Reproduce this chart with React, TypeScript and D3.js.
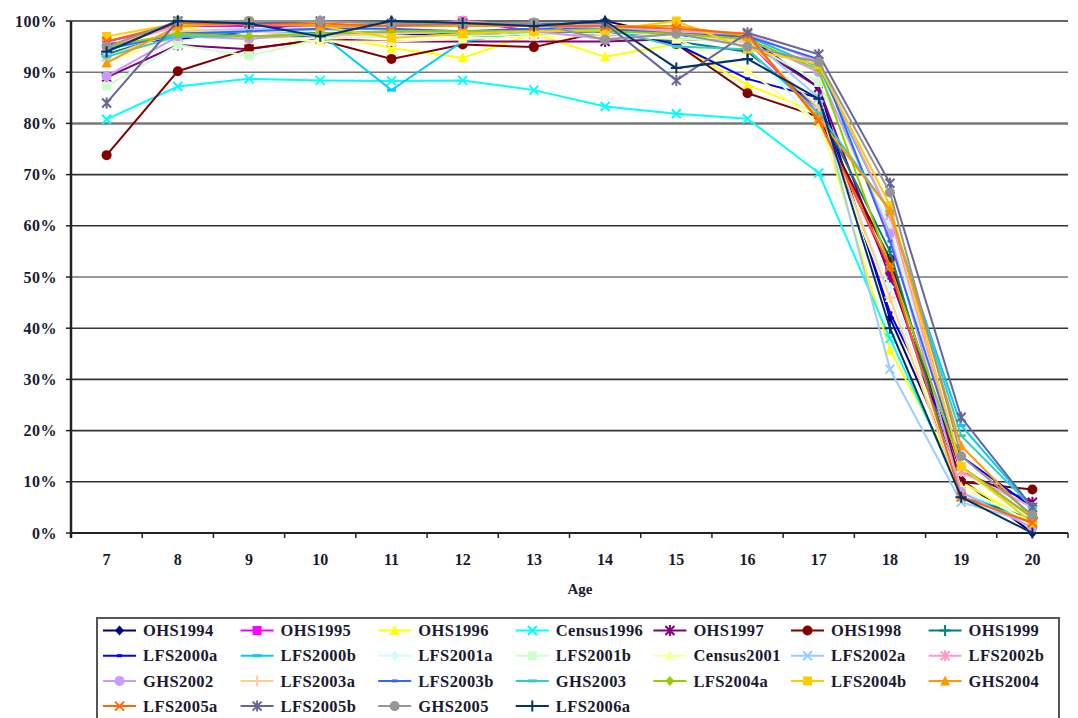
import React from "react";
import * as d3 from "d3";

const ages = ["7", "8", "9", "10", "11", "12", "13", "14", "15", "16", "17", "18", "19", "20"];
const yTicks = [0, 0.1, 0.2, 0.3, 0.4, 0.5, 0.6, 0.7, 0.8, 0.9, 1.0];

const seriesNames = [
  "OHS1994", "OHS1995", "OHS1996", "Census1996", "OHS1997", "OHS1998", "OHS1999",
  "LFS2000a", "LFS2000b", "LFS2001a", "LFS2001b", "Census2001", "LFS2002a", "LFS2002b",
  "GHS2002", "LFS2003a", "LFS2003b", "GHS2003", "LFS2004a", "LFS2004b", "GHS2004",
  "LFS2005a", "LFS2005b", "GHS2005", "LFS2006a",
];

const seriesColors = [
  "#000080", "#FF00FF", "#FFFF00", "#00FFFF", "#800080", "#800000", "#008080",
  "#0000FF", "#00CCFF", "#CCFFFF", "#CCFFCC", "#FFFF99", "#99CCFF", "#FF99CC",
  "#CC99FF", "#FFCC99", "#3366FF", "#33CCCC", "#99CC00", "#FFCC00", "#FF9900",
  "#FF6600", "#666699", "#969696", "#003366",
];

const markerCycle = ["diamond", "square", "triangle", "x", "star", "circle", "plus", "dot", "dash"];

// percentages
const OHS1994 = [94, 100, 99.5, 97.5, 100, 99, 99, 100, 97, 97, 87, 42, 10.5, 0];
const OHS1995 = [96, 99, 99, 99, 99, 100, 98, 97, 98, 96, 82, 51, 8, 2];
const OHS1996 = [95, 99, 96.5, 97.5, 94.7, 92.8, 97.5, 93, 95.5, 87.5, 82, 35.7, 10, 2];
const Census1996 = [80.8, 87.2, 88.7, 88.4, 88.3, 88.4, 86.5, 83.3, 81.9, 80.9, 70.3, 38, 8, 2];
const OHS1997 = [89, 95.3, 94.5, 96.5, 96, 96, 96, 96, 96.5, 96, 87, 50, 12, 6];
const OHS1998 = [73.8, 90.2, 94.6, 96.3, 92.6, 95.4, 94.9, 98, 95.5, 85.9, 81.3, 53.5, 10, 8.5];
const OHS1999 = [93.5, 98, 97, 97, 98, 97.5, 98, 98, 96, 94, 83, 55, 7, 3];
const LFS2000a = [95.5, 96.5, 98, 98, 97.5, 97, 97.5, 98, 95.5, 88.7, 85, 43, 15, 5];
const LFS2000b = [95, 97, 98, 97.5, 86.5, 96, 98, 98.5, 98, 97, 91, 62, 21, 5];
const LFS2001a = [94, 98, 98, 98, 98, 98, 98, 98, 97, 95, 79.5, 48, 8, 3];
const LFS2001b = [87.3, 95.3, 93.2, 96.5, 97, 97, 97.5, 97.5, 96.5, 96, 88, 60, 12, 3];
const Census2001 = [92, 97, 97, 96, 96, 96.5, 97, 97, 96.5, 90.4, 80, 46, 9, 2];
const LFS2002a = [93, 98, 98.5, 98.5, 99, 99, 99, 99, 98, 97, 85, 32, 6, 2];
const LFS2002b = [95, 99, 99.5, 99, 99, 100, 99, 98.5, 98, 97.5, 92, 62, 12, 5];
const GHS2002 = [89.2, 97, 96.5, 97.5, 97.5, 98, 98, 96.5, 97.5, 96.5, 90, 58.5, 8, 1];
const LFS2003a = [93, 98, 98, 97, 97.5, 98, 98, 98.5, 97.5, 96, 83, 46, 7, 2];
const LFS2003b = [94.5, 97.5, 98, 98.5, 98.5, 98, 98.5, 98.5, 97.5, 97, 92.5, 57, 13, 3];
const GHS2003 = [93, 97, 97, 97.5, 98, 98, 98, 98.5, 95, 94.5, 82, 63, 19, 5];
const LFS2004a = [95, 97.5, 97, 97.5, 98, 98, 98, 98, 97.5, 96.5, 90.5, 52, 13, 3];
const LFS2004b = [97, 99.5, 100, 99, 96.7, 97.5, 98, 98.2, 100, 94.5, 91.5, 64, 13, 2];
const GHS2004 = [91.8, 99, 99.5, 99, 99, 99, 99, 99, 99, 97, 81, 63, 17, 3];
const LFS2005a = [96, 99.5, 99.5, 99.5, 99, 99.5, 99, 99, 98.5, 97.5, 80.5, 52, 7, 2];
const LFS2005b = [84, 100, 99.5, 100, 99.5, 99.5, 99.5, 99.5, 88.4, 97.7, 93.5, 68.3, 22.6, 5];
const GHS2005 = [95, 100, 100, 100, 99.5, 99.5, 99.7, 96.3, 97.5, 95, 92, 66.5, 15, 3.5];
const LFS2006a = [94, 100, 99.5, 97, 100, 99.6, 99, 100, 90.8, 92.6, 84.8, 40, 7, 0];

const seriesValues = [
  OHS1994, OHS1995, OHS1996, Census1996, OHS1997, OHS1998, OHS1999,
  LFS2000a, LFS2000b, LFS2001a, LFS2001b, Census2001, LFS2002a, LFS2002b,
  GHS2002, LFS2003a, LFS2003b, GHS2003, LFS2004a, LFS2004b, GHS2004,
  LFS2005a, LFS2005b, GHS2005, LFS2006a,
];

const W = 1078;
const H = 718;
const plot = { left: 71, right: 1068, top: 21, bottom: 533 };
const font = "'Liberation Serif', 'Times New Roman', serif";
const textColor = "#1a1a2e";

function Marker({ kind, x, y, color }: { kind: string; x: number; y: number; color: string }) {
  const s = 4.5;
  switch (kind) {
    case "diamond":
      return <path d={`M${x},${y - s - 0.5}L${x + s},${y}L${x},${y + s + 0.5}L${x - s},${y}Z`} fill={color} />;
    case "square":
      return <rect x={x - s} y={y - s} width={2 * s} height={2 * s} fill={color} />;
    case "triangle":
      return <path d={`M${x},${y - s - 1}L${x + s + 0.5},${y + s}L${x - s - 0.5},${y + s}Z`} fill={color} />;
    case "x":
      return (
        <path d={`M${x - s},${y - s}L${x + s},${y + s}M${x - s},${y + s}L${x + s},${y - s}`} stroke={color} strokeWidth={2} />
      );
    case "star":
      return (
        <path
          d={`M${x - s},${y - s}L${x + s},${y + s}M${x - s},${y + s}L${x + s},${y - s}M${x},${y - s - 1}L${x},${y + s + 1}`}
          stroke={color}
          strokeWidth={2}
        />
      );
    case "circle":
      return <circle cx={x} cy={y} r={s + 0.5} fill={color} />;
    case "plus":
      return <path d={`M${x - s - 1},${y}L${x + s + 1},${y}M${x},${y - s - 1}L${x},${y + s + 1}`} stroke={color} strokeWidth={2} />;
    case "dot":
      return <path d={`M${x - 2.5},${y}L${x + 2.5},${y}`} stroke={color} strokeWidth={3} />;
    case "dash":
      return <path d={`M${x - 4.5},${y}L${x + 4.5},${y}`} stroke={color} strokeWidth={3} />;
    default:
      return null;
  }
}

export default function App() {
  const x = d3.scaleBand<string>().domain(ages).range([plot.left, plot.right]).padding(0);
  const bw = x.bandwidth();
  const cx = (a: string) => (x(a) as number) + bw / 2;
  const y = d3.scaleLinear().domain([0, 1]).range([plot.bottom, plot.top]);

  const line = d3
    .line<number>()
    .x((_, i) => cx(ages[i]))
    .y((v) => y(v / 100));

  const legendX0 = 103;
  const legendColW = 137.6;
  const legendY0 = 630.5;
  const legendRowH = 25.2;

  return (
    <svg width={W} height={H} style={{ position: "absolute", left: 0, top: 0, background: "#fff" }}>
      <rect x={0} y={0} width={W} height={H} fill="#fff" />
      {/* gridlines */}
      {yTicks.map((t) => (
        <line
          key={t}
          x1={plot.left}
          x2={plot.right}
          y1={y(t)}
          y2={y(t)}
          stroke={t === 0.8 || t === 0.9 || t === 0.5 ? "#777" : "#333"}
          strokeWidth={t === 0.8 ? 2.5 : 1.6}
        />
      ))}
      {/* y ticks and labels */}
      {yTicks.map((t) => (
        <g key={"yt" + t}>
          <line x1={plot.left - 5} x2={plot.left} y1={y(t)} y2={y(t)} stroke="#222" strokeWidth={1.5} />
          <text
            x={57}
            y={y(t)}
            dy="0.35em"
            textAnchor="end"
            fontFamily={font}
            fontWeight="bold"
            fontSize={16}
            letterSpacing={0.5}
            fill={textColor}
          >
            {Math.round(t * 100) + "%"}
          </text>
        </g>
      ))}
      {/* x axis ticks */}
      {ages.map((a) => (
        <line key={"xt" + a} x1={x(a) as number} x2={x(a) as number} y1={plot.bottom} y2={plot.bottom + 5} stroke="#222" strokeWidth={1.5} />
      ))}
      <line x1={plot.right} x2={plot.right} y1={plot.bottom} y2={plot.bottom + 5} stroke="#222" strokeWidth={1.5} />
      {ages.map((a) => (
        <text
          key={"xl" + a}
          x={cx(a)}
          y={565}
          textAnchor="middle"
          fontFamily={font}
          fontWeight="bold"
          fontSize={16}
          fill={textColor}
        >
          {a}
        </text>
      ))}
      <text x={580} y={594} textAnchor="middle" fontFamily={font} fontWeight="bold" fontSize={15} fill={textColor}>
        Age
      </text>
      {/* axes */}
      <line x1={plot.left} x2={plot.right} y1={plot.bottom} y2={plot.bottom} stroke="#222" strokeWidth={2} />
      <line x1={plot.left} x2={plot.left} y1={plot.top} y2={plot.bottom + 5} stroke="#222" strokeWidth={2.5} />

      {/* series */}
      {seriesValues.map((vals, si) => (
        <g key={seriesNames[si]}>
          <path d={line(vals) || ""} fill="none" stroke={seriesColors[si]} strokeWidth={2} />
          {vals.map((v, i) => (
            <Marker key={i} kind={markerCycle[si % 9]} x={cx(ages[i])} y={y(v / 100)} color={seriesColors[si]} />
          ))}
        </g>
      ))}

      {/* legend */}
      <rect x={97} y={618} width={962} height={110} fill="#fff" stroke="#555" strokeWidth={2} />
      {seriesNames.map((name, i) => {
        const col = i % 7;
        const row = Math.floor(i / 7);
        const lx = legendX0 + col * legendColW;
        const ly = legendY0 + row * legendRowH;
        return (
          <g key={"lg" + name}>
            <line x1={lx} x2={lx + 33} y1={ly} y2={ly} stroke={seriesColors[i]} strokeWidth={2} />
            <Marker kind={markerCycle[i % 9]} x={lx + 16.5} y={ly} color={seriesColors[i]} />
            <text
              x={lx + 40}
              y={ly}
              dy="0.34em"
              fontFamily={font}
              fontWeight="bold"
              fontSize={16.5}
              letterSpacing={0.4}
              fill={textColor}
            >
              {name}
            </text>
          </g>
        );
      })}
    </svg>
  );
}
